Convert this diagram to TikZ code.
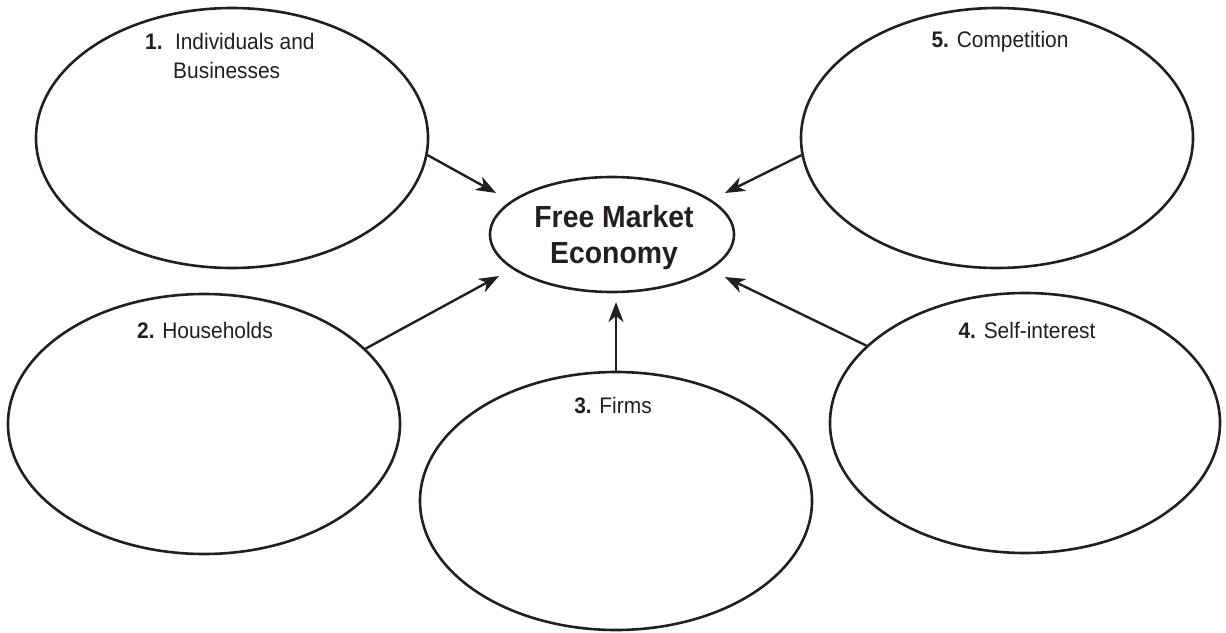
\documentclass[tikz,border=0pt]{standalone}
\usepackage{fontspec}
\setmainfont{Liberation Sans}[FakeStretch=0.93]
\usetikzlibrary{shapes.geometric,arrows.meta}
\definecolor{ink}{RGB}{35,31,32}
\tikzset{
  bubble/.style={draw=ink, ellipse, line width=2.6pt, minimum width=392pt, minimum height=260pt, inner sep=0pt},
  lab/.style={anchor=base, text=ink, font=\fontsize{22.5}{29}\selectfont, inner sep=0pt},
  arr/.style={draw=ink, line width=2.4pt, -{Stealth[length=20pt,width=15pt,inset=6pt]}},
}
\begin{document}
\begin{tikzpicture}[x=1pt,y=-1pt]
\useasboundingbox (0,0) rectangle (1226,632);
% outer bubbles
\node[bubble] (e1) at (232,138) {};
\node[bubble] (e2) at (204,424) {};
\node[bubble, minimum height=258pt] (e3) at (616,501) {};
\node[bubble, minimum width=390pt] (e4) at (1025,423) {};
\node[bubble] (e5) at (997,138) {};
% centre
\node[draw=ink, ellipse, line width=2.6pt, minimum width=244pt, minimum height=115pt, inner sep=0pt] (c) at (612,234.5) {};
\node[anchor=base, text=ink, font=\bfseries\fontsize{30.5}{36}\selectfont, inner sep=0pt] (ct1) at (614,227) {Free Market};
\node[anchor=base, text=ink, font=\bfseries\fontsize{30.5}{36}\selectfont, inner sep=0pt] (ct2) at (614,263) {Economy};
% labels
\node[lab, anchor=base west] (l1a) at (145,49) {\textbf{1.}\hspace{0.55em}Individuals and};
\node[lab, anchor=base west] (l1b) at (173,78) {Businesses};
\node[lab] (l2) at (205,338) {\textbf{2.} Households};
\node[lab] (l3) at (613,413) {\textbf{3.} Firms};
\node[lab] (l4) at (1027,338) {\textbf{4.} Self-interest};
\node[lab] (l5) at (1000,47) {\textbf{5.} Competition};
% arrow tips
\coordinate (t1) at (496,193);
\coordinate (t2) at (499,276);
\coordinate (t3) at (616,302);
\coordinate (t4) at (725,277);
\coordinate (t5) at (725,193);
% connectors
\draw[arr] (e1.-5.3) -- (t1);
\draw[arr] (e2.25.3) -- (t2);
\draw[arr] (e3.north) -- (t3);
\draw[arr] (e4.154.5) -- (t4);
\draw[arr] (e5.-175) -- (t5);
\end{tikzpicture}
\end{document}
